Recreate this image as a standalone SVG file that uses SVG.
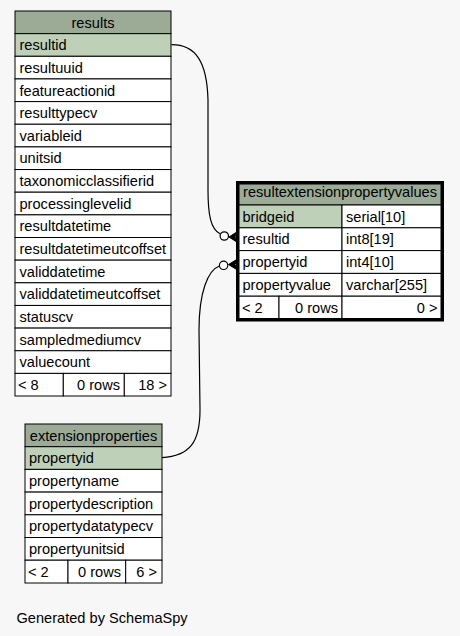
<svg xmlns="http://www.w3.org/2000/svg" width="460" height="636" viewBox="0 0 460 636">
<style>
text{font-family:"Liberation Sans",Arial,sans-serif;font-size:14.6px;fill:#000}
.h{fill:#9bab96;stroke:#000;stroke-width:1}
.pk{fill:#bed1b8;stroke:#000;stroke-width:1}
.c{fill:#fff;stroke:#000;stroke-width:1}
.f{fill:#fff;stroke:#000;stroke-width:1}
.mid{text-anchor:middle}
.end{text-anchor:end}
.edge{fill:none;stroke:#000;stroke-width:1.2}
.dot{fill:#fff;stroke:#000;stroke-width:1.2}
.crow{fill:#000;stroke:#000;stroke-width:1}
</style>
<rect x="0" y="0" width="460" height="636" fill="#f7f7f7"/>

<g id="results">
<rect class="h" x="15" y="11" width="156" height="22.65"/>
<text class="mid" x="93" y="27.6">results</text>
<rect class="pk" x="15" y="33.65" width="156" height="22.65"/><text x="19.5" y="50.2">resultid</text>
<rect class="c" x="15" y="56.3" width="156" height="22.65"/><text x="19.5" y="72.8">resultuuid</text>
<rect class="c" x="15" y="78.95" width="156" height="22.65"/><text x="19.5" y="95.5">featureactionid</text>
<rect class="c" x="15" y="101.6" width="156" height="22.65"/><text x="19.5" y="118.1">resulttypecv</text>
<rect class="c" x="15" y="124.25" width="156" height="22.65"/><text x="19.5" y="140.8">variableid</text>
<rect class="c" x="15" y="146.9" width="156" height="22.65"/><text x="19.5" y="163.4">unitsid</text>
<rect class="c" x="15" y="169.55" width="156" height="22.65"/><text x="19.5" y="186.1">taxonomicclassifierid</text>
<rect class="c" x="15" y="192.2" width="156" height="22.65"/><text x="19.5" y="208.7">processinglevelid</text>
<rect class="c" x="15" y="214.85" width="156" height="22.65"/><text x="19.5" y="231.4">resultdatetime</text>
<rect class="c" x="15" y="237.5" width="156" height="22.65"/><text x="19.5" y="254">resultdatetimeutcoffset</text>
<rect class="c" x="15" y="260.15" width="156" height="22.65"/><text x="19.5" y="276.7">validdatetime</text>
<rect class="c" x="15" y="282.8" width="156" height="22.65"/><text x="19.5" y="299.3">validdatetimeutcoffset</text>
<rect class="c" x="15" y="305.45" width="156" height="22.65"/><text x="19.5" y="322">statuscv</text>
<rect class="c" x="15" y="328.1" width="156" height="22.65"/><text x="19.5" y="344.6">sampledmediumcv</text>
<rect class="c" x="15" y="350.75" width="156" height="22.65"/><text x="19.5" y="367.3">valuecount</text>
<rect class="f" x="15" y="373.4" width="48.3" height="22.6"/>
<rect class="f" x="63.3" y="373.4" width="61" height="22.6"/>
<rect class="f" x="124.3" y="373.4" width="46.7" height="22.6"/>
<text x="18" y="389.9">&lt; 8</text>
<text class="end" x="120" y="389.9">0 rows</text>
<text class="end" x="167" y="389.9">18 &gt;</text>
</g>

<g id="resultextensionpropertyvalues">
<rect x="237.5" y="182.5" width="205" height="137.5" fill="#fff" stroke="#000" stroke-width="3"/>
<rect class="h" x="239" y="184" width="202" height="21"/>
<text class="mid" x="340" y="196.6">resultextensionpropertyvalues</text>
<rect class="pk" x="239" y="205" width="103" height="22.8"/>
<rect class="c" x="342" y="205" width="99" height="22.8"/>
<text x="242.5" y="221.6">bridgeid</text><text x="346" y="221.6">serial[10]</text>
<rect class="c" x="239" y="227.8" width="103" height="22.8"/>
<rect class="c" x="342" y="227.8" width="99" height="22.8"/>
<text x="242.5" y="244.4">resultid</text><text x="346" y="244.4">int8[19]</text>
<rect class="c" x="239" y="250.6" width="103" height="22.8"/>
<rect class="c" x="342" y="250.6" width="99" height="22.8"/>
<text x="242.5" y="267.2">propertyid</text><text x="346" y="267.2">int4[10]</text>
<rect class="c" x="239" y="273.4" width="103" height="22.8"/>
<rect class="c" x="342" y="273.4" width="99" height="22.8"/>
<text x="242.5" y="290">propertyvalue</text><text x="346" y="290">varchar[255]</text>
<rect class="f" x="239" y="296.2" width="40" height="22.3"/>
<rect class="f" x="279" y="296.2" width="63" height="22.3"/>
<rect class="f" x="342" y="296.2" width="99" height="22.3"/>
<text x="242" y="312.6">&lt; 2</text>
<text class="end" x="338" y="312.6">0 rows</text>
<text class="end" x="437.5" y="312.6">0 &gt;</text>
</g>

<g id="extensionproperties">
<rect class="h" x="25" y="424" width="137" height="22.7"/>
<text class="mid" x="93.5" y="440.6">extensionproperties</text>
<rect class="pk" x="25" y="446.7" width="137" height="22.7"/><text x="29" y="463.2">propertyid</text>
<rect class="c" x="25" y="469.4" width="137" height="22.7"/><text x="29" y="485.9">propertyname</text>
<rect class="c" x="25" y="492.1" width="137" height="22.7"/><text x="29" y="508.6">propertydescription</text>
<rect class="c" x="25" y="514.8" width="137" height="22.7"/><text x="29" y="531.3">propertydatatypecv</text>
<rect class="c" x="25" y="537.5" width="137" height="22.7"/><text x="29" y="554">propertyunitsid</text>
<rect class="f" x="25" y="560.2" width="43" height="22.8"/>
<rect class="f" x="68" y="560.2" width="57.7" height="22.8"/>
<rect class="f" x="125.7" y="560.2" width="36.3" height="22.8"/>
<text x="28" y="576.7">&lt; 2</text>
<text class="end" x="121" y="576.7">0 rows</text>
<text class="end" x="157" y="576.7">6 &gt;</text>
</g>

<g id="connectors">
<path class="edge" d="M171.5,44.7 C196,44.7 207,62 208,100 L208,190 C208,216 211,229 220,233.8"/>
<circle class="dot" cx="224.3" cy="236" r="4.2"/>
<path class="crow" d="M229,237 L237.5,231.5 L235,237 L237.5,242.5 Z"/>
<path class="edge" d="M162,457.7 C190,456 200,442 200,410 L199,330 C199,292 208,270 219.5,266"/>
<circle class="dot" cx="223.6" cy="265.3" r="4.2"/>
<path class="crow" d="M228.5,264.5 L237.5,259 L235,264.5 L237.5,270 Z"/>
</g>

<text x="16.5" y="622.5">Generated by SchemaSpy</text>
</svg>
